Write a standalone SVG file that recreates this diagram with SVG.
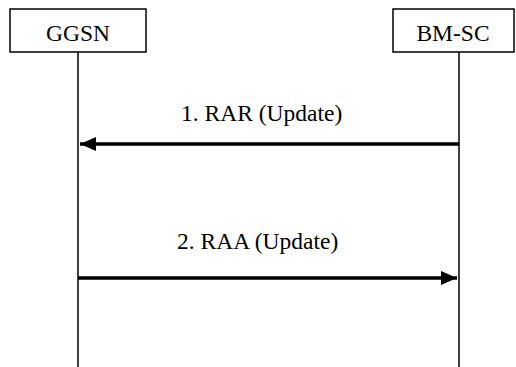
<svg xmlns="http://www.w3.org/2000/svg" width="516" height="367" viewBox="0 0 516 367">
<style>
.box{fill:#fff;stroke:#000;stroke-width:1.5}
.life{stroke:#000;stroke-width:1.5;fill:none}
.msg{stroke:#000;stroke-width:3.5;fill:none}
.t{font-family:"Liberation Serif","Times New Roman",serif;font-size:23.5px;fill:#000}
</style>
<defs>
<marker id="ah" markerUnits="userSpaceOnUse" markerWidth="17" markerHeight="14" refX="16" refY="7" orient="auto">
<path d="M0,0 L16,7 L0,14 Z" fill="#000"/>
</marker>
</defs>
<g id="ggsn">
<rect class="box" x="10" y="9" width="136" height="43"/>
<text class="t" x="78" y="41" text-anchor="middle">GGSN</text>
</g>
<g id="bmsc">
<rect class="box" x="393" y="9" width="121" height="43"/>
<text class="t" x="453" y="41" text-anchor="middle">BM-SC</text>
</g>
<g id="connectors">
<line class="life" x1="78" y1="52" x2="78" y2="367"/>
<line class="life" x1="459" y1="52" x2="459" y2="367"/>
<line class="msg" x1="459" y1="144" x2="80" y2="144" marker-end="url(#ah)"/>
<text class="t" x="181" y="121">1. RAR (Update)</text>
<line class="msg" x1="78" y1="278" x2="457" y2="278" marker-end="url(#ah)"/>
<text class="t" x="177" y="249">2. RAA (Update)</text>
</g>
</svg>
